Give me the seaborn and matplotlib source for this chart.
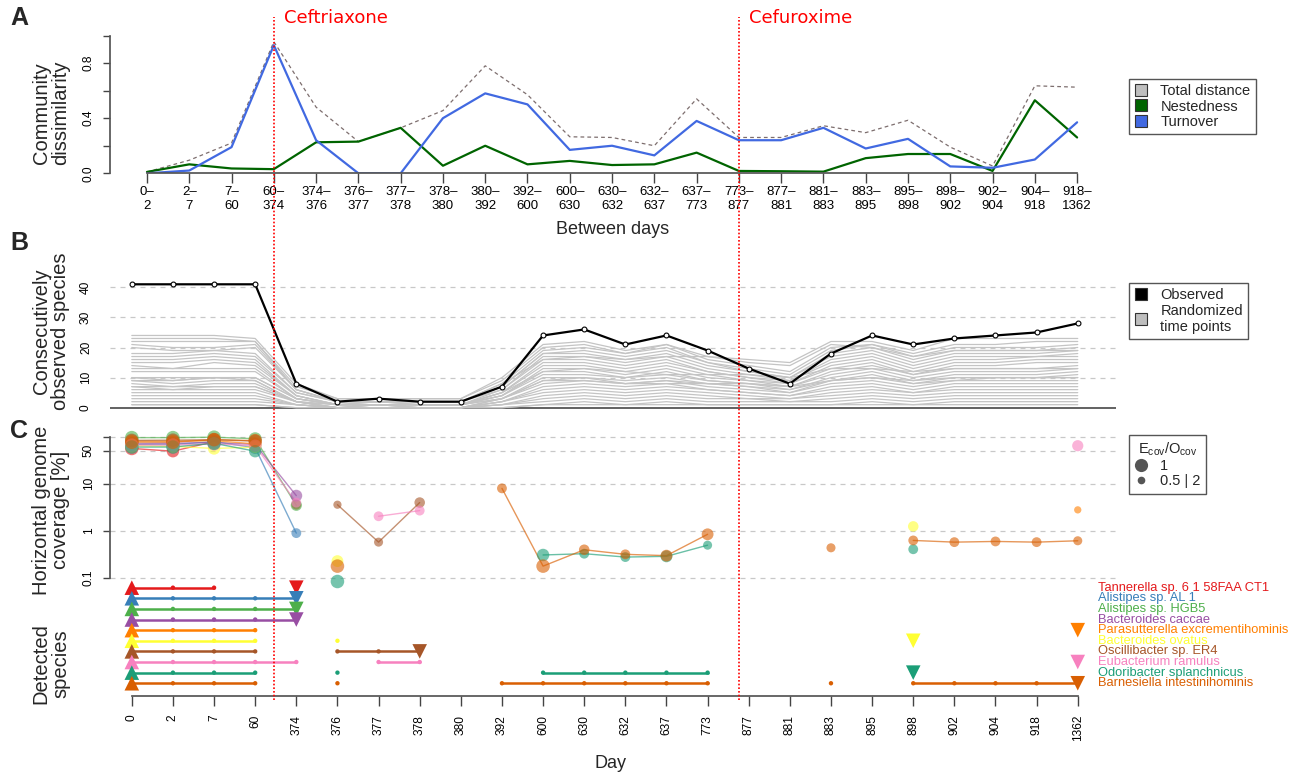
#!/usr/bin/env python3

import pandas as pd
from matplotlib import pyplot as plt
from matplotlib.lines import Line2D
from matplotlib.transforms import blended_transform_factory
import seaborn as sns

sns.set_theme(style="white")
plt.rcParams['font.family'] = ['Liberation Sans', 'DejaVu Sans']
plt.rcParams['mathtext.default'] = 'regular'

days = [0, 2, 7, 60, 374, 376, 377, 378, 380, 392, 600, 630, 632, 637, 773,
        877, 881, 883, 895, 898, 902, 904, 918, 1362]

# panel A: one value per pair of consecutive sampling days
total_distance = [0.01, 0.095, 0.22, 0.955, 0.48, 0.23, 0.33, 0.455, 0.78, 0.57, 0.265, 0.26,
                  0.20, 0.54, 0.26, 0.26, 0.345, 0.295, 0.385, 0.19, 0.053, 0.635, 0.625]
nestedness = [0.01, 0.065, 0.035, 0.03, 0.225, 0.23, 0.33, 0.055, 0.20, 0.065, 0.09, 0.06,
              0.065, 0.15, 0.017, 0.015, 0.012, 0.11, 0.14, 0.14, 0.017, 0.53, 0.26]
turnover = [0.0, 0.02, 0.19, 0.93, 0.24, 0.0, 0.0, 0.40, 0.58, 0.50, 0.17, 0.20,
            0.13, 0.38, 0.24, 0.24, 0.33, 0.18, 0.25, 0.05, 0.04, 0.10, 0.37]

antibiotic_names = ['Ceftriaxone', 'Cefuroxime']
antibiotic_after_day = [60, 773]

# panel B
observed = [41, 41, 41, 41, 8, 2, 3, 2, 2, 7, 24, 26, 21, 24, 19, 13, 8, 18, 24, 21, 23, 24, 25, 28]
random_runs = [
    [24, 24, 24, 23, 8, 3, 3, 3, 3, 10, 21, 22, 19, 21, 17, 16, 15, 22, 22, 19, 23, 23, 23, 23],
    [23, 23, 23, 22, 7, 3, 3, 3, 3, 9, 20, 21, 18, 21, 16, 14, 12, 20, 21, 18, 21, 21, 22, 22],
    [22, 22, 22, 22, 6, 2, 3, 2, 2, 8, 19, 20, 18, 20, 15, 13, 11, 19, 21, 17, 20, 20, 20, 21],
    [21, 20, 20, 21, 6, 2, 2, 2, 2, 8, 16, 17, 16, 17, 17, 15, 14, 21, 20, 17, 19, 19, 19, 19],
    [20, 19, 19, 20, 6, 2, 2, 2, 2, 7, 18, 19, 17, 19, 15, 12, 10, 18, 20, 16, 19, 19, 19, 20],
    [18, 18, 19, 18, 5, 2, 2, 2, 2, 7, 18, 18, 16, 18, 14, 12, 10, 17, 19, 15, 18, 18, 18, 19],
    [17, 17, 18, 17, 5, 2, 2, 2, 2, 6, 17, 17, 15, 17, 13, 11, 9, 16, 18, 14, 17, 17, 17, 18],
    [16, 16, 17, 16, 4, 1, 2, 1, 1, 6, 16, 16, 14, 16, 12, 10, 9, 15, 17, 13, 16, 16, 17, 17],
    [15, 15, 16, 15, 4, 1, 2, 1, 1, 5, 15, 15, 13, 15, 12, 10, 8, 14, 16, 12, 15, 15, 16, 16],
    [14, 13, 15, 14, 4, 1, 1, 1, 1, 5, 14, 14, 12, 14, 11, 9, 8, 13, 15, 11, 14, 14, 15, 15],
    [13, 13, 13, 13, 3, 1, 1, 1, 1, 4, 13, 13, 11, 13, 10, 9, 7, 12, 14, 11, 13, 13, 13, 14],
    [12, 12, 12, 12, 3, 1, 1, 1, 1, 4, 12, 12, 10, 12, 9, 8, 7, 11, 13, 10, 12, 12, 12, 13],
    [10, 9, 10, 10, 3, 1, 1, 1, 1, 5, 12, 13, 12, 11, 11, 11, 10, 13, 13, 12, 13, 13, 13, 13],
    [10, 10, 10, 10, 3, 1, 1, 1, 1, 4, 11, 11, 10, 11, 9, 8, 6, 10, 12, 9, 11, 11, 11, 12],
    [9, 8, 9, 9, 2, 1, 1, 1, 1, 3, 10, 10, 9, 10, 8, 7, 6, 9, 11, 8, 10, 10, 10, 11],
    [9, 9, 10, 9, 2, 1, 1, 1, 1, 3, 9, 10, 8, 9, 8, 7, 5, 9, 10, 8, 9, 10, 10, 10],
    [8, 7, 8, 8, 2, 0, 1, 0, 0, 3, 8, 9, 8, 9, 7, 6, 5, 8, 9, 7, 9, 9, 9, 9],
    [7, 6, 7, 7, 2, 0, 0, 0, 0, 3, 9, 9, 8, 8, 8, 8, 7, 9, 10, 9, 10, 10, 10, 10],
    [7, 7, 7, 7, 2, 0, 1, 0, 0, 2, 7, 8, 7, 8, 6, 5, 4, 7, 8, 6, 8, 8, 8, 8],
    [6, 6, 6, 6, 2, 0, 1, 0, 0, 2, 6, 7, 6, 7, 6, 5, 4, 6, 7, 5, 7, 7, 7, 7],
    [5, 5, 5, 5, 1, 0, 0, 0, 0, 2, 5, 6, 5, 6, 5, 4, 3, 5, 6, 5, 6, 6, 6, 6],
    [4, 4, 4, 4, 1, 0, 0, 0, 0, 1, 4, 5, 4, 5, 4, 3, 3, 4, 5, 4, 5, 5, 5, 5],
    [3, 3, 3, 3, 1, 0, 0, 0, 0, 1, 3, 4, 3, 4, 3, 3, 2, 3, 4, 3, 4, 4, 4, 4],
    [2, 2, 2, 2, 1, 0, 0, 0, 0, 1, 2, 3, 2, 3, 2, 2, 2, 2, 3, 2, 3, 3, 3, 3],
    [1, 1, 1, 1, 0, 0, 0, 0, 0, 0, 1, 2, 1, 2, 1, 1, 1, 1, 2, 1, 2, 2, 2, 2],
    [1, 1, 1, 1, 0, 0, 0, 0, 0, 0, 1, 1, 1, 1, 1, 1, 1, 1, 1, 1, 1, 1, 1, 1],
]

# panel C
species = ['Tannerella sp. 6 1 58FAA CT1', 'Alistipes sp. AL 1', 'Alistipes sp. HGB5',
           'Bacteroides caccae', 'Parasutterella excrementihominis', 'Bacteroides ovatus',
           'Oscillibacter sp. ER4', 'Eubacterium ramulus', 'Odoribacter splanchnicus',
           'Barnesiella intestinihominis']
species_colors = ['#E41A1C', '#377EB8', '#4DAF4A', '#984EA3', '#FF7F00', '#FFFF33',
                  '#A65628', '#F781BF', '#1B9E77', '#D95F02']
detected_days = [
    [0, 2, 7, 374],
    [0, 2, 7, 60, 374],
    [0, 2, 7, 60, 374],
    [0, 2, 7, 60, 374],
    [0, 2, 7, 60, 1362],
    [0, 2, 7, 60, 376, 898],
    [0, 2, 7, 60, 376, 377, 378],
    [0, 2, 7, 60, 374, 377, 378, 1362],
    [0, 2, 7, 60, 376, 600, 630, 632, 637, 773, 898],
    [0, 2, 7, 60, 376, 392, 600, 630, 632, 637, 773, 883, 898, 902, 904, 918, 1362],
]

cov_species = [0] * 4 + [1] * 5 + [2] * 5 + [3] * 5 + [4] * 5 + [5] * 6 + [6] * 7 + [7] * 8 + [8] * 11 + [9] * 17
cov_day = [0, 2, 7, 374,
           0, 2, 7, 60, 374,
           0, 2, 7, 60, 374,
           0, 2, 7, 60, 374,
           0, 2, 7, 60, 1362,
           0, 2, 7, 60, 376, 898,
           0, 2, 7, 60, 376, 377, 378,
           0, 2, 7, 60, 374, 377, 378, 1362,
           0, 2, 7, 60, 376, 600, 630, 632, 637, 773, 898,
           0, 2, 7, 60, 376, 392, 600, 630, 632, 637, 773, 883, 898, 902, 904, 918, 1362]
cov_pct = [56, 49, 78, 3.6,
           68, 68, 78, 58, 0.9,
           95, 95, 97, 90, 3.5,
           70, 72, 75, 68, 5.6,
           80, 80, 82, 70, 2.8,
           64, 62, 56, 60, 0.23, 1.25,
           83, 84, 86, 80, 3.6, 0.58, 4.0,
           66, 66, 70, 64, 4.0, 2.05, 2.7, 64,
           60, 60, 72, 49, 0.085, 0.31, 0.33, 0.28, 0.29, 0.5, 0.41,
           76, 76, 86, 82, 0.18, 8.0, 0.18, 0.40, 0.32, 0.30, 0.85, 0.44, 0.63, 0.58, 0.60, 0.58, 0.62]
cov_ratio = [1.0, 0.9, 1.0, 0.7,
             1.0, 1.0, 1.0, 0.9, 0.7,
             1.0, 1.0, 1.0, 0.95, 0.8,
             1.0, 1.0, 1.0, 0.9, 0.85,
             1.0, 1.0, 1.0, 0.95, 0.55,
             1.0, 0.9, 0.9, 0.9, 0.85, 0.75,
             1.0, 1.0, 1.0, 0.95, 0.6, 0.65, 0.75,
             1.0, 1.0, 1.0, 0.9, 0.7, 0.7, 0.7, 0.8,
             1.0, 1.0, 1.0, 0.9, 1.0, 0.9, 0.7, 0.7, 0.85, 0.65, 0.7,
             1.0, 1.0, 1.0, 1.0, 1.0, 0.7, 1.0, 0.75, 0.7, 0.85, 0.85, 0.65, 0.7, 0.7, 0.7, 0.7, 0.65]

W, H = 1303, 774
DAY_XLIM = (-0.53, 23.93)
GRID = dict(color='#c8c8c8', lw=0.9, ls=(0, (4, 4)), zorder=0)
AXCOL = '#444444'


def px_axes(fig, left, top, right, bottom):
    ax = fig.add_axes([left / W, 1 - bottom / H, (right - left) / W, (bottom - top) / H])
    ax.patch.set_alpha(0)
    return ax


def segment_ids(idx_list):
    seg, out = 0, []
    for k, j in enumerate(idx_list):
        if k > 0 and j != idx_list[k - 1] + 1:
            seg += 1
        out.append(seg)
    return out


def style_axes(ax):
    for s in ax.spines.values():
        s.set_visible(False)
    ax.tick_params(colors=AXCOL, labelcolor='black', width=1, direction='out',
                   bottom=True, left=True)


fig = plt.figure(figsize=(W / 100, H / 100), dpi=100)
day_idx = list(range(len(days)))
palette = dict(zip(species, species_colors))

# ---------------- A
ax_a = px_axes(fig, 110, 35.5, 1116, 173.3)
style_axes(ax_a)
pair_idx = list(range(len(turnover)))
sns.lineplot(x=pair_idx, y=total_distance, ax=ax_a, color='#7d6e6e', lw=0.9)
ax_a.lines[-1].set_linestyle((0, (3, 2.5)))
sns.lineplot(x=pair_idx, y=nestedness, ax=ax_a, color='#006400', lw=1.6)
sns.lineplot(x=pair_idx, y=turnover, ax=ax_a, color='#4169E1', lw=1.6)
ax_a.set_xlim(-0.875, 22.92)
ax_a.set_ylim(0, 1)
ax_a.spines['left'].set_visible(True)
ax_a.spines['bottom'].set_visible(True)
ax_a.spines['left'].set_bounds(0, 1)
ax_a.spines['bottom'].set_bounds(0, len(turnover) - 1)
for s in ('left', 'bottom'):
    ax_a.spines[s].set_color('#555555')
ax_a.set_xticks(pair_idx)
ax_a.set_xticklabels([f'{a}–\n{b}' for a, b in zip(days[:-1], days[1:])], fontsize=9.5, linespacing=1.25)
ax_a.set_yticks([0, 0.2, 0.4, 0.6, 0.8, 1.0])
ax_a.set_yticklabels(['0.0', '', '0.4', '', '0.8', ''], fontsize=8.6, rotation=90, va='center')
ax_a.tick_params(axis='x', length=7, pad=2)
ax_a.tick_params(axis='y', length=5, pad=6)
ax_a.set_xlabel('')
ax_a.set_ylabel('')

# ---------------- B
ax_b = px_axes(fig, 110, 279, 1116, 412)
style_axes(ax_b)
for g in (10, 20, 30, 40):
    ax_b.axhline(g, **GRID)
runs_df = pd.DataFrame([(r, j, v) for r, run in enumerate(random_runs) for j, v in enumerate(run)],
                       columns=['run', 'idx', 'value'])
sns.lineplot(data=runs_df, x='idx', y='value', units='run', estimator=None, color='#c4c4c4',
             lw=0.9, ax=ax_b, legend=False)
ax_b.axhline(0, color='#555555', lw=1.3, zorder=1)
sns.lineplot(x=day_idx, y=observed, ax=ax_b, color='black', lw=1.6, marker='o', markersize=3.5,
             markerfacecolor='white', markeredgecolor='black', markeredgewidth=0.8, zorder=5)
ax_b.set_xlim(*DAY_XLIM)
ax_b.set_ylim(-1.43, 42.76)
ax_b.set_xticks([])
ax_b.set_yticks([0, 10, 20, 30, 40])
ax_b.set_yticklabels(['0', '10', '20', '30', '40'], fontsize=8.6, rotation=90, va='center')
ax_b.tick_params(axis='y', length=0, pad=13)
ax_b.set_xlabel('')
ax_b.set_ylabel('')

# ---------------- C coverage
ax_c = px_axes(fig, 110, 432, 1116, 583)
style_axes(ax_c)
ax_c.set_yscale('log')
for g in (0.1, 1, 10, 50, 100):
    ax_c.axhline(g, **GRID)
cov_df = pd.DataFrame({'species': [species[k] for k in cov_species],
                       'idx': [days.index(d) for d in cov_day],
                       'pct': cov_pct, 'ratio': cov_ratio})
cov_df['seg'] = 0
for name, sub in cov_df.groupby('species', sort=False):
    cov_df.loc[sub.index, 'seg'] = segment_ids(list(sub['idx']))
cov_df['unit'] = cov_df['species'] + '_' + cov_df['seg'].astype(str)
sns.lineplot(data=cov_df, x='idx', y='pct', hue='species', units='unit', estimator=None,
             palette=palette, lw=1.0, alpha=0.65, legend=False, sort=False, ax=ax_c)
sns.scatterplot(data=cov_df, x='idx', y='pct', hue='species', size='ratio', sizes=(20, 95),
                size_norm=(0.5, 1.0), palette=palette, alpha=0.6, linewidth=0, legend=False,
                ax=ax_c, clip_on=False, zorder=4)
ax_c.set_xlim(*DAY_XLIM)
ax_c.set_ylim(0.079, 125)
ax_c.spines['left'].set_visible(True)
ax_c.spines['left'].set_bounds(0.1, 100)
ax_c.spines['left'].set_color('#555555')
ax_c.set_xticks([])
ax_c.minorticks_off()
ax_c.set_yticks([0.1, 1, 10, 50, 100])
ax_c.set_yticklabels(['0.1', '1', '10', '50', ''], fontsize=8.6, rotation=90, va='center')
ax_c.tick_params(axis='y', length=5, pad=6)
ax_c.tick_params(axis='x', bottom=False)
ax_c.set_xlabel('')
ax_c.set_ylabel('')

# ---------------- C detected species
ax_s = px_axes(fig, 110, 583, 1116, 696)
style_axes(ax_s)
det_rows = []
for r, (name, dlist) in enumerate(zip(species, detected_days)):
    idxs = [days.index(d) for d in dlist]
    for j, seg in zip(idxs, segment_ids(idxs)):
        det_rows.append((name, r, j, f'{name}_{seg}'))
det_df = pd.DataFrame(det_rows, columns=['species', 'row', 'idx', 'unit'])
sns.lineplot(data=det_df, x='idx', y='row', hue='species', units='unit', estimator=None,
             palette=palette, lw=1.8, legend=False, sort=False, ax=ax_s)
sns.scatterplot(data=det_df, x='idx', y='row', hue='species', palette=palette, s=10,
                linewidth=0, legend=False, ax=ax_s, zorder=4)
first = det_df.groupby('species', sort=False).head(1)
last = det_df.groupby('species', sort=False).tail(1)
sns.scatterplot(data=first, x='idx', y='row', hue='species', palette=palette, marker='^', s=110,
                linewidth=0, legend=False, ax=ax_s, zorder=5, clip_on=False)
sns.scatterplot(data=last, x='idx', y='row', hue='species', palette=palette, marker='v', s=110,
                linewidth=0, legend=False, ax=ax_s, zorder=5, clip_on=False)
ytr = ax_s.get_yaxis_transform()
for r, (name, col) in enumerate(zip(species, species_colors)):
    ax_s.text((1098 - 110) / 1006, r, name, color=col, transform=ytr, fontsize=9.3,
              ha='left', va='center', clip_on=False)
ax_s.set_xlim(*DAY_XLIM)
ax_s.set_ylim(10.2, -0.44)
ax_s.spines['bottom'].set_visible(True)
ax_s.spines['bottom'].set_bounds(0, len(days) - 1)
ax_s.spines['bottom'].set_color('#555555')
ax_s.set_yticks([])
ax_s.set_xticks(day_idx)
ax_s.set_xticklabels([str(d) for d in days], fontsize=8.6, rotation=90)
ax_s.tick_params(axis='x', length=7.5, pad=6)
ax_s.tick_params(axis='y', left=False)
ax_s.set_xlabel('')
ax_s.set_ylabel('')

# ---------------- antibiotic markers across all panels
trans = blended_transform_factory(ax_a.transData, fig.transFigure)
for name, start in zip(antibiotic_names, antibiotic_after_day):
    i = days.index(start)
    fig.add_artist(Line2D([i, i], [1 - 700 / H, 1 - 17 / H], transform=trans, color='red',
                          lw=1.2, ls=(0, (1, 1.2))))
    ax_a.annotate(name, xy=(i, 1 - 18 / H), xycoords=trans, xytext=(7, 0),
                  textcoords='offset points', color='red', fontsize=13, ha='left', va='center',
                  family='DejaVu Sans', annotation_clip=False)


# ---------------- labels
def ftext(x, y, s, **kw):
    fig.text(x / W, 1 - y / H, s, **kw)


ftext(19, 18, 'A', fontsize=18, weight='bold', ha='center', va='center')
ftext(19, 243, 'B', fontsize=18, weight='bold', ha='center', va='center')
ftext(19, 431, 'C', fontsize=18, weight='bold', ha='center', va='center')
ylab = dict(fontsize=14.5, rotation=90, ha='center', va='center', linespacing=1.05)
ftext(51, 113, 'Community\ndissimilarity', **ylab)
ftext(51, 331, 'Consecutively\nobserved species', **ylab)
ftext(51, 510, 'Horizontal genome\ncoverage [%]', **ylab)
ftext(51, 664, 'Detected\nspecies', **ylab)
ftext(613, 230, 'Between days', fontsize=13, ha='center', va='center')
ftext(610, 763, 'Day', fontsize=13, ha='center', va='center')


# ---------------- legends
def square(c):
    return Line2D([], [], ls='', marker='s', markersize=8.5, markerfacecolor=c,
                  markeredgecolor='#333333', markeredgewidth=0.8)


leg_kw = dict(loc='upper left', borderaxespad=0, fontsize=10.5, frameon=True, fancybox=False,
              framealpha=1, edgecolor='#555555', borderpad=0.35, labelspacing=0.1,
              handlelength=1.0, handletextpad=0.8)
leg = fig.legend([square('#BEBEBE'), square('#006400'), square('#4169E1')],
                 ['Total distance', 'Nestedness', 'Turnover'],
                 bbox_to_anchor=(1129 / W, 1 - 79 / H), **leg_kw)
leg.get_frame().set_linewidth(1.0)
leg = fig.legend([square('black'), square('#BEBEBE')], ['Observed', 'Randomized\ntime points'],
                 bbox_to_anchor=(1129 / W, 1 - 283 / H), **leg_kw)
leg.get_frame().set_linewidth(1.0)
dot_big = Line2D([], [], ls='', marker='o', markersize=9.5, markerfacecolor='#555555', markeredgewidth=0)
dot_small = Line2D([], [], ls='', marker='o', markersize=5.5, markerfacecolor='#555555', markeredgewidth=0)
leg = fig.legend([dot_big, dot_small], ['1', '0.5 | 2'], title='$E_{cov}/O_{cov}$',
                 bbox_to_anchor=(1129 / W, 1 - 435 / H), title_fontsize=10.5, **leg_kw)
leg.get_frame().set_linewidth(1.0)

fig.savefig('out.png', dpi=100)
